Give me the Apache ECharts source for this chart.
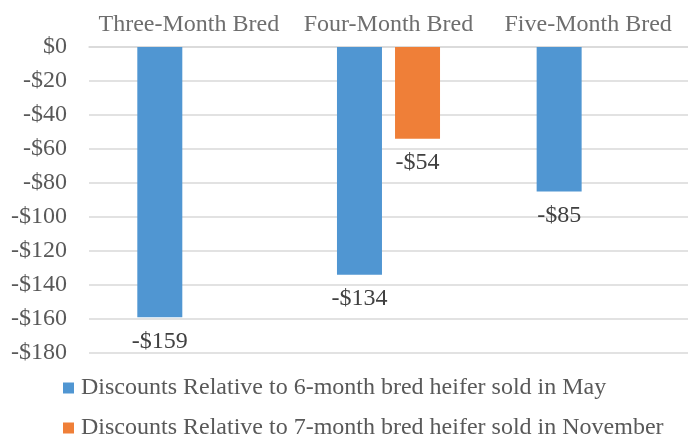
<!DOCTYPE html>
<html><head><meta charset="utf-8">
<script src="https://cdn.jsdelivr.net/npm/echarts@6/dist/echarts.min.js"></script>
<style>html,body{margin:0;padding:0;background:#fff}#c{width:688px;height:437px}</style>
</head><body><div id="c"></div>
<script>
const categories = ['Three-Month Bred', 'Four-Month Bred', 'Five-Month Bred'];
const seriesNames = ['Discounts Relative to 6-month bred heifer sold in May', 'Discounts Relative to 7-month bred heifer sold in November'];
const mayValues = [-159, -134, -85];
const novValues = [null, -54, null];
const yMin = -180, yMax = 0, yStep = 20;

const fmt = v => v === 0 ? '$0' : (v < 0 ? '-$' + Math.abs(v) : '$' + v);
const FONT = 'Liberation Serif';
const chart = echarts.init(document.getElementById('c'), null, {renderer: 'canvas'});
chart.setOption({
  animation: false,
  textStyle: {fontFamily: FONT},
  grid: {left: 89, top: 47, width: 604, height: 306, containLabel: false},
  legend: {
    orient: 'vertical', left: 63, top: 376, height: 80, itemWidth: 11, itemHeight: 11, itemGap: 16,
    icon: 'rect', padding: 0,
    textStyle: {fontFamily: FONT, fontSize: 24, color: '#595959', padding: [0, 0, 0, 2]},
    data: seriesNames
  },
  xAxis: {
    type: 'category', position: 'top', data: categories,
    axisLine: {show: true, lineStyle: {color: '#d9d9d9', width: 1.5}},
    axisTick: {show: false},
    axisLabel: {interval: 0, fontFamily: FONT, fontSize: 24, color: '#6e6e6e', margin: 10}
  },
  yAxis: {
    type: 'value', min: yMin, max: yMax, interval: yStep,
    axisLine: {show: false}, axisTick: {show: false},
    splitLine: {lineStyle: {color: '#d9d9d9', width: 1.5}},
    axisLabel: {fontFamily: FONT, fontSize: 24, color: '#595959', margin: 22, formatter: fmt}
  },
  series: [
    {name: seriesNames[0], type: 'bar', data: mayValues, barWidth: 45, barGap: '29%',
     itemStyle: {color: '#5096D2'},
     label: {show: true, position: 'bottom', distance: 12, fontFamily: FONT, fontSize: 24, color: '#404040', formatter: p => fmt(p.value)}},
    {name: seriesNames[1], type: 'bar', data: novValues, barWidth: 45,
     itemStyle: {color: '#EF7F38'},
     label: {show: true, position: 'bottom', distance: 12, fontFamily: FONT, fontSize: 24, color: '#404040', formatter: p => fmt(p.value)}}
  ]
});
</script></body></html>
